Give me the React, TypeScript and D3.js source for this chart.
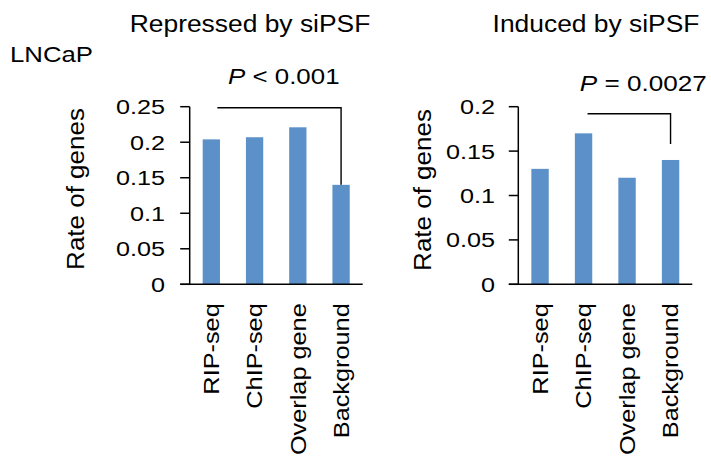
import React from "react";
import * as d3 from "d3";

const categories = ["RIP-seq", "ChIP-seq", "Overlap gene", "Background"];
const repressedValues = [0.204, 0.207, 0.221, 0.14];
const inducedValues = [0.13, 0.17, 0.12, 0.14];
const repressedTicks = [0, 0.05, 0.1, 0.15, 0.2, 0.25];
const inducedTicks = [0, 0.05, 0.1, 0.15, 0.2];
const repressedTickLabels = ["0", "0.05", "0.1", "0.15", "0.2", "0.25"];
const inducedTickLabels = ["0", "0.05", "0.1", "0.15", "0.2"];
const titles = ["Repressed by siPSF", "Induced by siPSF"];
const cellLine = "LNCaP";
const yLabel = "Rate of genes";
const pLabels = [" < 0.001", " = 0.0027"];

const FONT = "'Liberation Sans', Arial, Helvetica, sans-serif";
const BAR = "#5B90C8";

type PanelProps = {
  values: number[];
  ticks: number[];
  tickLabels: string[];
  max: number;
  x0: number;
  x1: number;
  title: string;
  titleX: number;
  pText: string;
  pX: number;
  pY: number;
  pStretch: number;
  bracketFrom: number;
  bracketY: number;
  bracketEnd: number;
  bracketDx: number;
  labelRight: number;
  yLabelX: number;
  yLabelY: number;
};

const Y_TOP = 106.7;
const Y_BOTTOM = 284.3;

function Panel(p: PanelProps) {
  const x = d3
    .scaleBand<string>()
    .domain(categories)
    .range([p.x0, p.x1])
    .paddingInner(0.6)
    .paddingOuter(0.3);
  const y = d3.scaleLinear().domain([0, p.max]).range([Y_BOTTOM, Y_TOP]);
  const cx = (i: number) => (x(categories[i]) as number) + x.bandwidth() / 2;
  const last = categories.length - 1;
  const bx1 = cx(p.bracketFrom) + p.bracketDx;
  const bx2 = cx(last);
  return (
    <g>
      <text
        transform={`translate(${p.titleX},31.7) scale(1.1,1)`}
        textAnchor="middle"
        fontSize={24}
        fontFamily={FONT}
      >
        {p.title}
      </text>
      {p.values.map((v, i) => (
        <rect
          key={i}
          x={x(categories[i])}
          y={y(v)}
          width={x.bandwidth()}
          height={Y_BOTTOM - y(v)}
          fill={BAR}
        />
      ))}
      <line x1={p.x0} x2={p.x0} y1={Y_TOP} y2={Y_BOTTOM} stroke="#000" strokeWidth={1.5} />
      {p.ticks.map((t, i) => (
        <g key={i}>
          <line x1={p.x0 - 9.5} x2={p.x0} y1={y(t)} y2={y(t)} stroke="#000" strokeWidth={1.5} />
          <text
            transform={`translate(${p.labelRight},${y(t) + 7.4}) scale(1.2,1)`}
            textAnchor="end"
            fontSize={21}
            fontFamily={FONT}
          >
            {p.tickLabels[i]}
          </text>
        </g>
      ))}
      <line x1={p.x0 - 9.5} x2={p.x1} y1={Y_BOTTOM} y2={Y_BOTTOM} stroke="#000" strokeWidth={1.5} />
      {categories.map((c, i) => (
        <text
          key={c}
          transform={`translate(${cx(i) + 7.9},303.3) rotate(-90) scale(1.15,1)`}
          textAnchor="end"
          fontSize={22}
          fontFamily={FONT}
        >
          {c}
        </text>
      ))}
      <text
        transform={`translate(${p.yLabelX},${p.yLabelY}) rotate(-90) scale(1.13,1)`}
        textAnchor="middle"
        fontSize={23}
        fontFamily={FONT}
      >
        {yLabel}
      </text>
      <path
        d={`M${bx1},${y(p.bracketY)}H${bx2}V${y(p.bracketEnd)}`}
        fill="none"
        stroke="#000"
        strokeWidth={1.4}
      />
      <text
        transform={`translate(${p.pX},${p.pY}) scale(${p.pStretch},1)`}
        textAnchor="middle"
        fontSize={22.5}
        fontFamily={FONT}
        style={{ whiteSpace: "pre" }}
      >
        <tspan fontStyle="italic">P</tspan>
        <tspan>{p.pText}</tspan>
      </text>
    </g>
  );
}

export default function App() {
  return (
    <svg
      width={711}
      height={460}
      style={{ position: "absolute", left: 0, top: 0, background: "#fff" }}
    >
      <rect width={711} height={460} fill="#fff" />
      <text
        transform="translate(10,62.3) scale(1.12,1)"
        fontSize={23}
        fontFamily={FONT}
      >
        {cellLine}
      </text>
      <Panel
        values={repressedValues}
        ticks={repressedTicks}
        tickLabels={repressedTickLabels}
        max={0.25}
        x0={189.7}
        x1={362.7}
        title={titles[0]}
        titleX={250}
        pText={pLabels[0]}
        pX={283.8}
        pY={83.5}
        pStretch={1.15}
        bracketFrom={0}
        bracketY={0.2485}
        bracketEnd={repressedValues[3]}
        bracketDx={6}
        labelRight={165}
        yLabelX={84}
        yLabelY={189}
      />
      <Panel
        values={inducedValues}
        ticks={inducedTicks}
        tickLabels={inducedTickLabels}
        max={0.2}
        x0={518.3}
        x1={692.3}
        title={titles[1]}
        titleX={596}
        pText={pLabels[1]}
        pX={643.3}
        pY={91}
        pStretch={1.16}
        bracketFrom={1}
        bracketY={0.192}
        bracketEnd={0.158}
        bracketDx={4}
        labelRight={495}
        yLabelX={430.5}
        yLabelY={190}
      />
    </svg>
  );
}
